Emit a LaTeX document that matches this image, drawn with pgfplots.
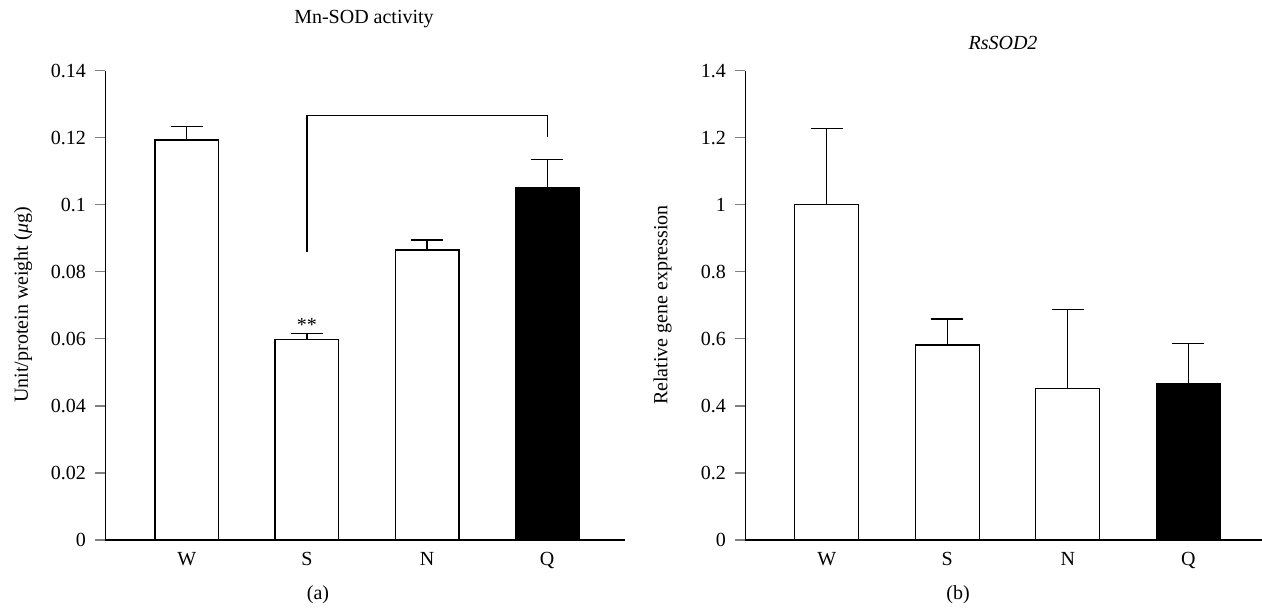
\documentclass[border=0pt]{standalone}
\usepackage{fontspec}
\setmainfont{Liberation Serif}
\usepackage{pgfplots}
\pgfplotsset{compat=1.18}

\pgfplotsset{
  sodbars/.style={
    scale only axis,
    height=234.65pt,
    ymin=0,
    axis x line*=bottom,
    axis y line*=left,
    axis line style={line width=0.6pt},
    ytick align=outside,
    major tick length=5pt,
    ytick style={line width=0.6pt},
    xtick={1,2,3,4},
    xticklabels={W,S,N,Q},
    xtick style={draw=none},
    x tick label style={yshift=-2.5pt},
    y tick label style={xshift=-1.2pt},
    tick label style={font=\fontsize{10}{12}\selectfont},
    clip=false,
  },
  barw/.style={ybar, bar width=0.53, draw=black, line width=0.6pt,
    error bars/y dir=plus, error bars/y explicit,
    error bars/error mark=-,
    error bars/error mark options={rotate=90, mark size=8pt, line width=0.6pt, black},
    error bars/error bar style={line width=0.6pt, black}},
}

\begin{document}
\begin{tikzpicture}
\path[use as bounding box] (0,0) rectangle (631pt,305pt);

% (a) Mn-SOD activity
\begin{axis}[sodbars,
  at={(52.65pt,35pt)}, anchor=south west,
  width=260pt,
  xmin=0.322, xmax=4.65,
  ymax=0.14,
  ytick={0,0.02,0.04,0.06,0.08,0.1,0.12,0.14},
  yticklabels={0,0.02,0.04,0.06,0.08,0.1,0.12,0.14},
]
\addplot[barw, fill=white] coordinates {
  (1,0.1193) +- (0,0.0040)
  (2,0.0597) +- (0,0.0020)
  (3,0.0865) +- (0,0.0030)
};
\addplot[barw, fill=black] coordinates {
  (4,0.1050) +- (0,0.0086)
};
\addplot[black, line width=0.6pt, mark=none] coordinates {
  (2,0.0860) (2,0.1266) (4,0.1266) (4,0.1203)
};
\node[anchor=base, font=\fontsize{10}{12}\selectfont, inner sep=0pt] at (axis cs:2,0.0621) {**};
\end{axis}

% (b) RsSOD2
\begin{axis}[sodbars,
  at={(372.65pt,35pt)}, anchor=south west,
  width=258.35pt,
  xmin=0.3245, xmax=4.612,
  ymax=1.4,
  ytick={0,0.2,0.4,0.6,0.8,1,1.2,1.4},
  yticklabels={0,0.2,0.4,0.6,0.8,1,1.2,1.4},
]
\addplot[barw, fill=white] coordinates {
  (1,1.000) +- (0,0.228)
  (2,0.582) +- (0,0.077)
  (3,0.452) +- (0,0.235)
};
\addplot[barw, fill=black] coordinates {
  (4,0.466) +- (0,0.120)
};
\end{axis}

% titles, axis labels, panel letters
\begin{scope}[every node/.style={font=\fontsize{10}{12}\selectfont}]
\node at (182pt,295.25pt) {Mn-SOD activity};
\node at (501.5pt,283.65pt) {\textit{RsSOD2}};
\node[rotate=90] at (11.5pt,152.5pt) {Unit/protein weight (\textit{μ}g)};
\node[rotate=90] at (331.3pt,152.5pt) {Relative gene expression};
\node at (159pt,7.5pt) {(a)};
\node at (479pt,7.5pt) {(b)};
\end{scope}
\end{tikzpicture}
\end{document}
